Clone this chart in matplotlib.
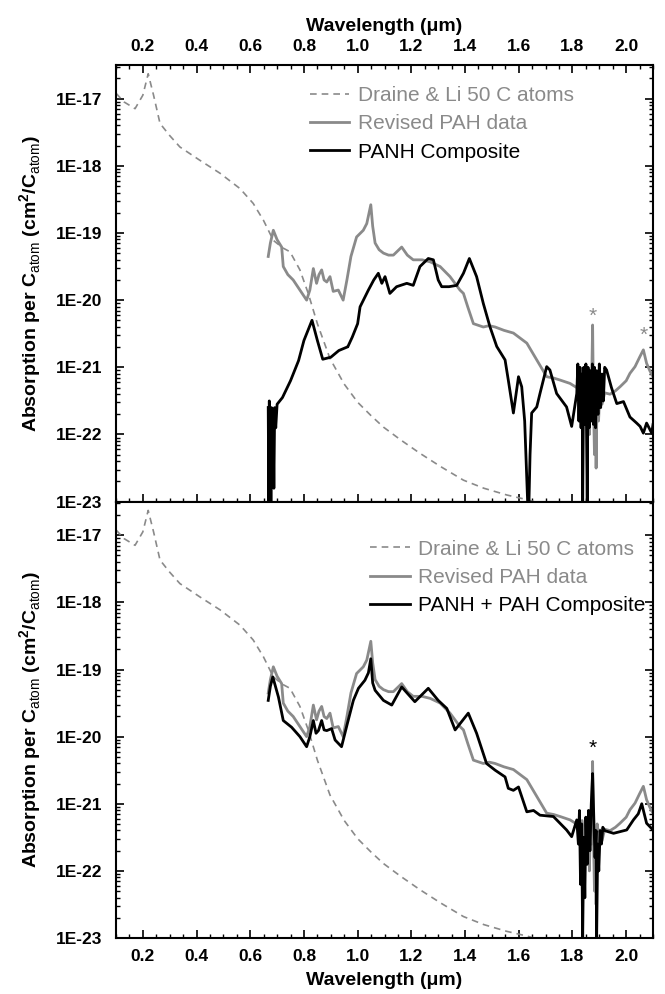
import numpy as np
import matplotlib
matplotlib.use("Agg")
import matplotlib.pyplot as plt
from matplotlib.ticker import FixedLocator, MultipleLocator, LogLocator, FuncFormatter, NullFormatter
from matplotlib.lines import Line2D

plt.rcParams['font.family'] = ['Liberation Sans', 'DejaVu Sans']
plt.rcParams['mathtext.fontset'] = 'custom'
plt.rcParams['mathtext.rm'] = 'Liberation Sans'
plt.rcParams['mathtext.bf'] = 'Liberation Sans:bold'

GRAY = '#8a8a8a'

# Draine & Li 50 C atoms (log10 of absorption)
wl_draine = [0.10, 0.13, 0.171, 0.20, 0.22, 0.24, 0.264, 0.30, 0.338, 0.413, 0.487, 0.562,
             0.611, 0.649, 0.686, 0.72, 0.748, 0.785, 0.816, 0.85, 0.897, 0.95, 1.00,
             1.05, 1.096, 1.16, 1.232, 1.31, 1.394, 1.47, 1.555, 1.63, 1.70]
log_draine = [-16.92, -17.05, -17.15, -16.95, -16.63, -16.95, -17.37, -17.55, -17.72, -17.92,
              -18.11, -18.34, -18.56, -18.81, -19.11, -19.22, -19.28, -19.55, -19.90, -20.35,
              -20.87, -21.25, -21.52, -21.72, -21.89, -22.08, -22.28, -22.48, -22.68, -22.80,
              -22.90, -22.97, -23.05]

# Revised PAH data (same curve in both panels)
wl_pah = [0.667, 0.675, 0.686, 0.70, 0.717, 0.723, 0.74, 0.76, 0.785, 0.81, 0.822, 0.835, 0.847,
          0.856, 0.866, 0.875, 0.885, 0.897, 0.909, 0.928, 0.946, 0.96, 0.975, 0.996, 1.021,
          1.034, 1.049, 1.056, 1.065, 1.08, 1.096, 1.115, 1.133, 1.164, 1.185, 1.207, 1.24,
          1.27, 1.307, 1.344, 1.381, 1.394, 1.41, 1.431, 1.468, 1.49, 1.512, 1.545, 1.58,
          1.61, 1.63, 1.667, 1.704, 1.73, 1.754, 1.791, 1.815, 1.828, 1.836, 1.840, 1.845,
          1.850, 1.855, 1.860, 1.863, 1.867, 1.870, 1.875, 1.878, 1.882, 1.885, 1.888, 1.892,
          1.897, 1.902, 1.91, 1.92, 1.94, 1.96, 1.977, 2.0, 2.014, 2.033, 2.05, 2.064, 2.076,
          2.088, 2.10]
log_pah = [-19.35, -19.15, -18.96, -19.10, -19.21, -19.50, -19.62, -19.70, -19.85, -20.00, -19.85,
           -19.53, -19.75, -19.62, -19.55, -19.70, -19.73, -19.65, -19.87, -19.85, -20.00,
           -19.70, -19.35, -19.06, -18.96, -18.86, -18.58, -18.90, -19.15, -19.25, -19.30,
           -19.33, -19.33, -19.21, -19.33, -19.40, -19.40, -19.43, -19.50, -19.65, -19.85,
           -19.90, -20.10, -20.35, -20.40, -20.38, -20.40, -20.45, -20.49, -20.58, -20.64,
           -20.89, -21.14, -21.16, -21.19, -21.24, -21.30, -21.34, -21.25, -21.40, -21.60,
           -21.20, -21.90, -21.10, -22.00, -21.30, -21.60, -20.37, -21.50, -22.30, -21.40,
           -22.50, -21.30, -21.80, -21.39, -21.55, -21.38, -21.40, -21.35, -21.29, -21.20,
           -21.09, -20.99, -20.85, -20.74, -20.94, -21.05, -21.14]

# PANH Composite (top panel)
wl_panh = [0.667, 0.669, 0.671, 0.673, 0.675, 0.677, 0.679, 0.682, 0.685, 0.688, 0.691, 0.695,
           0.70, 0.72, 0.75, 0.78, 0.80, 0.815, 0.83, 0.85, 0.87, 0.90, 0.93, 0.96,
           np.nan, 0.965, 0.98, 1.0, 1.009, 1.04, 1.06, 1.077, 1.09, 1.102, 1.12, 1.145, 1.183,
           1.207, 1.232, 1.263, 1.282, 1.30, 1.313, 1.34, 1.369, 1.394, 1.416, 1.443, 1.468,
           1.493, 1.518, 1.549, 1.561, 1.58, 1.599, 1.611, 1.622, 1.633, 1.638, 1.642, 1.648,
           1.667, 1.679, 1.704, 1.716, 1.741, 1.778, 1.797, 1.816, 1.820, 1.824, 1.828, 1.832,
           1.836, 1.838, 1.842, 1.846, 1.850, 1.853, 1.855, 1.858, 1.862, 1.866, 1.870, 1.874,
           1.878, 1.882, 1.886, 1.890, 1.895, 1.900, 1.905, 1.910, 1.915, 1.920, 1.927, 1.945,
           1.965, 1.99, 2.014, 2.039, 2.052, 2.064, 2.076, 2.085, 2.095, 2.10]
log_panh = [-21.6, -23.0, -21.5, -22.6, -21.8, -23.0, -21.6, -22.3, -21.7, -22.8, -21.6, -21.9,
            -21.55, -21.45, -21.2, -20.9, -20.6, -20.45, -20.3, -20.6, -20.88, -20.85, -20.75,
            -20.7, np.nan, -20.68, -20.55, -20.35, -20.10, -19.85, -19.70, -19.60, -19.75,
            -19.65, -19.90, -19.80, -19.75, -19.78, -19.50, -19.38, -19.40, -19.70, -19.80,
            -19.80, -19.78, -19.60, -19.38, -19.65, -20.05, -20.40, -20.69, -20.89, -21.19,
            -21.68, -21.14, -21.29, -21.8, -23.0, -23.0, -22.3, -21.68, -21.59, -21.39, -20.99,
            -21.04, -21.39, -21.59, -21.88, -21.39, -20.95, -21.80, -21.00, -21.90, -21.10,
            -23.0, -21.0, -21.85, -20.95, -22.2, -23.0, -21.0, -21.9, -21.05, -21.8, -20.95,
            -21.85, -21.0, -21.9, -21.05, -21.7, -20.95, -21.6, -21.1, -21.5, -21.0, -21.04,
            -21.30, -21.54, -21.51, -21.74, -21.83, -21.88, -21.98, -21.83, -21.90, -21.98, -21.85]

# PANH + PAH Composite (bottom panel)
wl_mix = [0.667, 0.675, 0.684, 0.705, 0.723, 0.754, 0.785, 0.81, 0.822, 0.835, 0.845, 0.854,
          0.866, 0.875, 0.885, 0.903, 0.916, 0.94, 0.962, 0.984, 1.003, 1.027, 1.04, 1.049,
          1.056, 1.065, 1.096, 1.127, 1.164, 1.213, 1.263, 1.30, 1.332, 1.363, 1.412, 1.443,
          1.48, 1.512, 1.549, 1.561, 1.58, 1.599, 1.63, 1.655, 1.679, 1.729, 1.778, 1.797,
          1.816, 1.822, 1.826, 1.830, 1.834, 1.838, 1.842, 1.846, 1.850, 1.855, 1.860, 1.865,
          1.870, 1.875, 1.880, 1.884, 1.888, 1.890, 1.894, 1.898, 1.903, 1.908, 1.913, 1.92,
          1.953, 2.002, 2.027, 2.045, 2.058, 2.076, 2.10]
log_mix = [-19.46, -19.25, -19.11, -19.41, -19.76, -19.86, -20.00, -20.15, -20.00, -19.76,
           -19.95, -19.91, -19.76, -19.90, -19.91, -19.88, -20.05, -20.15, -19.80, -19.46,
           -19.28, -19.16, -19.05, -18.84, -19.20, -19.31, -19.46, -19.53, -19.26, -19.48,
           -19.28, -19.46, -19.58, -19.90, -19.65, -19.95, -20.40, -20.50, -20.60, -20.77,
           -20.80, -20.75, -21.12, -21.10, -21.17, -21.19, -21.39, -21.49, -21.24, -21.6,
           -21.1, -22.2, -21.3, -23.0, -21.5, -22.4, -21.2, -21.9, -21.1, -21.7, -21.0,
           -20.55, -21.3, -21.8, -21.4, -23.0, -21.6, -22.0, -21.4, -21.6, -21.35, -21.40,
           -21.44, -21.39, -21.24, -21.15, -21.00, -21.29, -21.39]

# asterisk markers (x, log y)
star_top = [(1.875, -20.24), (2.064, -20.52)]
star_bottom = [(1.875, -20.18)]


def style_axes(ax, top_labels):
    ax.set_yscale('log')
    ax.set_xlim(0.1, 2.1)
    ax.set_ylim(1e-23, 10 ** -16.5)
    ax.xaxis.set_major_locator(FixedLocator([0.2, 0.4, 0.6, 0.8, 1.0, 1.2, 1.4, 1.6, 1.8, 2.0]))
    ax.xaxis.set_minor_locator(MultipleLocator(0.05))
    ax.xaxis.set_major_formatter(FuncFormatter(lambda v, p: f"{v:.1f}"))
    ax.yaxis.set_major_locator(FixedLocator([10.0 ** k for k in range(-23, -16)]))
    ax.yaxis.set_minor_locator(LogLocator(base=10, subs=np.arange(2, 10), numticks=20))
    ax.yaxis.set_major_formatter(FuncFormatter(lambda v, p: f"1E{int(round(np.log10(v)))}"))
    ax.yaxis.set_minor_formatter(NullFormatter())
    if top_labels:
        ax.tick_params(axis='x', which='both', direction='in', top=True, bottom=True,
                       labeltop=True, labelbottom=False)
        ax.xaxis.set_label_position('top')
    else:
        ax.tick_params(axis='x', which='both', direction='in', top=False, bottom=True,
                       labeltop=False, labelbottom=True)
    ax.tick_params(axis='y', which='both', direction='in', left=True, right=True)
    ax.tick_params(which='major', length=6, width=1.2, labelsize=12.5)
    ax.tick_params(axis='x', which='major', pad=8)
    ax.tick_params(axis='y', which='major', pad=10)
    ax.tick_params(which='minor', length=3, width=1.0)
    for lab in ax.get_xticklabels() + ax.get_yticklabels():
        lab.set_fontweight('bold')
    for s in ax.spines.values():
        s.set_linewidth(1.5)
    ax.set_xlabel('Wavelength (μm)', fontsize=14, fontweight='bold', labelpad=6)
    ax.set_ylabel(r"Absorption per C$_{\rm atom}$ (cm$^{\bf 2}$/C$_{\rm atom}$)",
                  fontsize=14, fontweight='bold', labelpad=8)


def to_lin(v):
    return 10.0 ** np.asarray(v, dtype=float)


fig = plt.figure(figsize=(6.65, 9.94), dpi=100)
ax1 = fig.add_axes([0.1744, 0.4953, 0.8076, 0.4393])
ax2 = fig.add_axes([0.1744, 0.0563, 0.8076, 0.4390])

leg_kw = dict(loc='upper left', frameon=False, fontsize=15, handlelength=1.9,
              handletextpad=0.4, labelspacing=0.45, borderaxespad=0, borderpad=0)

# top panel
ax1.plot(wl_draine, to_lin(log_draine), color=GRAY, lw=1.2, ls=(0, (4, 3)))
ax1.plot(wl_pah, to_lin(log_pah), color=GRAY, lw=2.0)
ax1.plot(wl_panh, to_lin(log_panh), color='black', lw=2.0)
for sx, sy in star_top:
    ax1.text(sx, 10 ** sy, '*', color=GRAY, fontsize=15, ha='center', va='center')
style_axes(ax1, True)
h1 = [Line2D([], [], color=GRAY, lw=1.2, ls=(0, (4, 3))),
      Line2D([], [], color=GRAY, lw=2.0),
      Line2D([], [], color='black', lw=2.0)]
leg1 = ax1.legend(h1, ['Draine & Li 50 C atoms', 'Revised PAH data', 'PANH Composite'],
                  bbox_to_anchor=(0.361, 0.952), **leg_kw)
for t, c in zip(leg1.get_texts(), [GRAY, GRAY, 'black']):
    t.set_color(c)

# bottom panel
ax2.plot(wl_draine, to_lin(log_draine), color=GRAY, lw=1.2, ls=(0, (4, 3)))
ax2.plot(wl_pah, to_lin(log_pah), color=GRAY, lw=2.0)
ax2.plot(wl_mix, to_lin(log_mix), color='black', lw=2.0)
for sx, sy in star_bottom:
    ax2.text(sx, 10 ** sy, '*', color='black', fontsize=15, ha='center', va='center')
style_axes(ax2, False)
h2 = [Line2D([], [], color=GRAY, lw=1.2, ls=(0, (4, 3))),
      Line2D([], [], color=GRAY, lw=2.0),
      Line2D([], [], color='black', lw=2.0)]
leg2 = ax2.legend(h2, ['Draine & Li 50 C atoms', 'Revised PAH data', 'PANH + PAH Composite'],
                  bbox_to_anchor=(0.473, 0.913), **leg_kw)
for t, c in zip(leg2.get_texts(), [GRAY, GRAY, 'black']):
    t.set_color(c)

fig.savefig('out.png', dpi=100)
